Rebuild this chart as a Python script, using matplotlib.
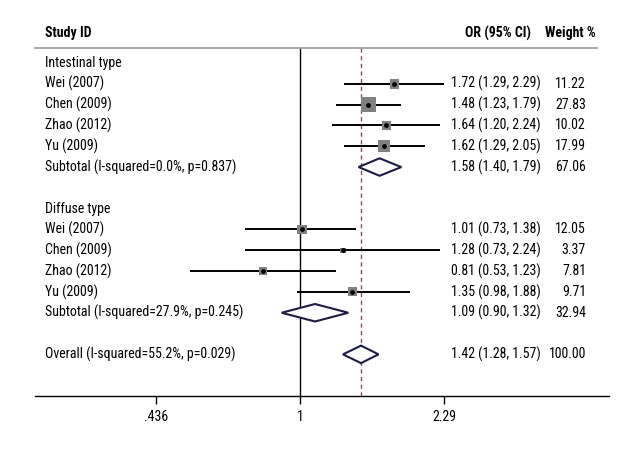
import numpy as np
import matplotlib.pyplot as plt
import matplotlib.font_manager as fm

studies = ['Wei (2007)', 'Chen (2009)', 'Zhao (2012)', 'Yu (2009)']

# Intestinal type
int_or = [1.72, 1.48, 1.64, 1.62]
int_lo = [1.29, 1.23, 1.20, 1.29]
int_hi = [2.29, 1.79, 2.24, 2.05]
int_w = [11.22, 27.83, 10.02, 17.99]

# Diffuse type
diff_or = [1.01, 1.28, 0.81, 1.35]
diff_lo = [0.73, 0.73, 0.53, 0.98]
diff_hi = [1.38, 2.24, 1.23, 1.88]
diff_w = [12.05, 3.37, 7.81, 9.71]

# pooled estimates: label, OR, lower, upper, weight
pooled_labels = ['Subtotal (I-squared=0.0%, p=0.837)',
                 'Subtotal (I-squared=27.9%, p=0.245)',
                 'Overall (I-squared=55.2%, p=0.029)']
pooled_or = [1.58, 1.09, 1.42]
pooled_lo = [1.40, 0.90, 1.28]
pooled_hi = [1.79, 1.32, 1.57]
pooled_w = [67.06, 32.94, 100.00]

group_names = ['Intestinal type', 'Diffuse type']
xticks = [0.436, 1, 2.29]
xtick_labels = ['.436', '1', '2.29']


# look for a narrow / condensed face, the original uses a condensed font
def weight_num(w):
    if isinstance(w, (int, float)):
        return w
    return {'bold': 700, 'normal': 400, 'regular': 400, 'book': 400}.get(str(w).lower(), 400)


def find_condensed(bold):
    prefs = ['liberation sans narrow', 'roboto condensed', 'open sans condensed',
             'noto sans', 'dejavu sans', 'lato', 'inter']
    best = None
    for f in fm.fontManager.ttflist:
        key = (f.name + ' ' + f.fname).lower()
        narrow = ('condensed' in key or 'narrow' in key
                  or f.stretch in ('condensed', 'semi-condensed'))
        if not narrow or f.style != 'normal' or 'italic' in key:
            continue
        if 'extra' in key or 'ultra' in key or 'semi' in key:
            continue
        wn = weight_num(f.weight)
        if bold and wn < 600:
            continue
        if not bold and not (350 <= wn <= 450):
            continue
        rank = len(prefs)
        for i, p in enumerate(prefs):
            if key.startswith(p):
                rank = i
                break
        if best is None or rank < best[0]:
            best = (rank, f.fname)
    return best[1] if best else None


reg_file = find_condensed(False)
bold_file = find_condensed(True)
if reg_file:
    fs = 10
    fp = fm.FontProperties(fname=reg_file, size=fs)
else:
    fs = 8.3
    fp = fm.FontProperties(family=['Liberation Sans', 'DejaVu Sans'], size=fs)
if bold_file and reg_file:
    fpb = fm.FontProperties(fname=bold_file, size=fs)
else:
    fpb = fp.copy()
    fpb.set_weight('bold')

fig = plt.figure(figsize=(6.3, 4.5), dpi=100)
ax = fig.add_axes([35 / 630, 54 / 450, 574 / 630, 348 / 450])
ax.set_xscale('log')
ax.set_xlim(0.218, 5.906)
ax.set_ylim(16.0, -0.72)

# rows of the plot
rows_int = [1, 2, 3, 4]
rows_diff = [8, 9, 10, 11]
rows_pooled = [5, 12, 14]
rows_group = [0, 7]

trans = ax.get_yaxis_transform()
lab_x = 0.0174
or_x = 0.7247
w_x = 0.9599

# reference lines
ax.vlines(1, -0.72, 16.0, color='black', lw=1.0, zorder=1)
ax.vlines(pooled_or[2], -0.72, 16.0, color='#8c4a5e', lw=1.0,
          linestyles=(0, (3, 2.5)), zorder=1)

for rows, ors, los, his, ws in [(rows_int, int_or, int_lo, int_hi, int_w),
                                (rows_diff, diff_or, diff_lo, diff_hi, diff_w)]:
    ax.hlines(rows, los, his, color='black', lw=1.4, zorder=2)
    ax.scatter(ors, rows, s=[4.2 * w for w in ws], marker='s',
               color='#808080', edgecolors='none', zorder=3)
    ax.scatter(ors, rows, s=6, color='black', zorder=4)
    for r, name, o, lo, hi, w in zip(rows, studies, ors, los, his, ws):
        ax.text(lab_x, r, name, transform=trans, va='center', fontproperties=fp)
        ax.text(or_x, r, '%.2f (%.2f, %.2f)' % (o, lo, hi), transform=trans,
                va='center', fontproperties=fp)
        ax.text(w_x, r, '%.2f' % w, transform=trans, va='center', ha='right',
                fontproperties=fp)

for r, name in zip(rows_group, group_names):
    ax.text(lab_x, r, name, transform=trans, va='center', fontproperties=fp)

h = 0.42
for r, name, o, lo, hi, w in zip(rows_pooled, pooled_labels, pooled_or,
                                 pooled_lo, pooled_hi, pooled_w):
    ax.fill([lo, o, hi, o, lo], [r, r - h, r, r + h, r], facecolor='white',
            edgecolor='#1c1c44', lw=1.5, zorder=5)
    ax.text(lab_x, r, name, transform=trans, va='center', fontproperties=fp)
    ax.text(or_x, r, '%.2f (%.2f, %.2f)' % (o, lo, hi), transform=trans,
            va='center', fontproperties=fp)
    ax.text(w_x, r, '%.2f' % w, transform=trans, va='center', ha='right',
            fontproperties=fp)

# header
ax.text(lab_x, -1.44, 'Study ID', transform=trans, va='center',
        fontproperties=fpb, clip_on=False)
ax.text(0.864, -1.44, 'OR (95% CI)', transform=trans, va='center', ha='right',
        fontproperties=fpb, clip_on=False)
ax.text(0.977, -1.44, 'Weight %', transform=trans, va='center', ha='right',
        fontproperties=fpb, clip_on=False)
ax.plot([0, 0.979], [1, 1], transform=ax.transAxes, color='#999999', lw=1.2,
        clip_on=False)

for side in ['top', 'left', 'right']:
    ax.spines[side].set_visible(False)
ax.spines['bottom'].set_linewidth(1.0)
ax.set_yticks([])
ax.set_xticks(xticks)
ax.set_xticklabels(xtick_labels, fontproperties=fp)
ax.minorticks_off()
ax.tick_params(axis='x', direction='out', length=6, width=1.0, pad=4)

fig.savefig('out.png', dpi=100)
